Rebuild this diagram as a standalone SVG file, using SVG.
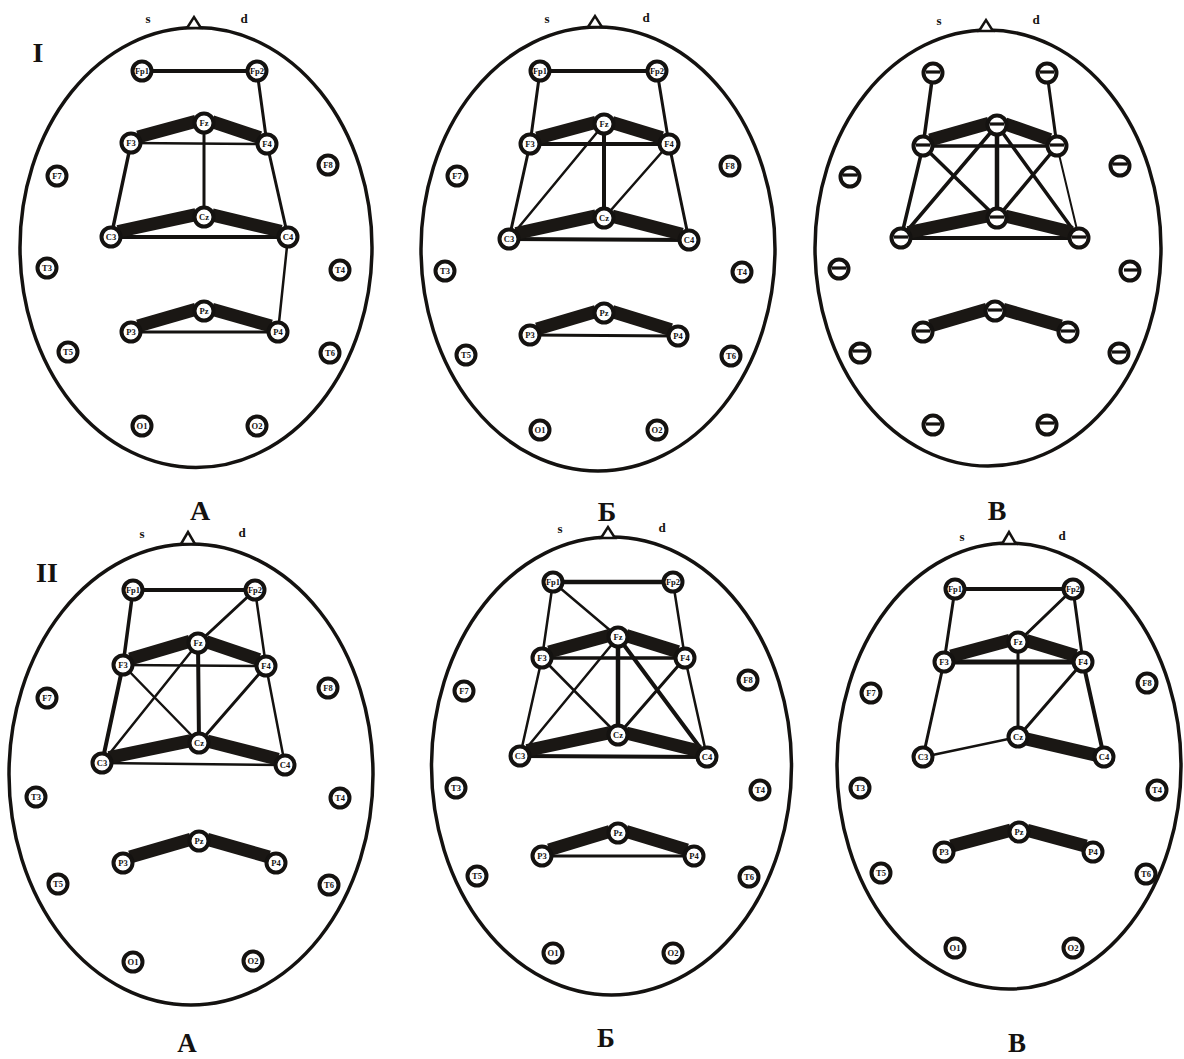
<svg xmlns="http://www.w3.org/2000/svg" width="1184" height="1059" viewBox="0 0 1184 1059">
<style>
.bg{fill:#fff}
.head{fill:none;stroke:#141210;stroke-width:3.5}
.nose{fill:#fff;stroke:#141210;stroke-width:2.5;stroke-linejoin:miter}
.sd{font-family:"Liberation Serif",serif;font-weight:bold;font-size:13px;fill:#141210;text-anchor:middle}
.big{font-family:"Liberation Serif",serif;font-weight:bold;font-size:28px;fill:#141210;text-anchor:middle}
.big2{font-family:"Liberation Serif",serif;font-weight:bold;font-size:27px;fill:#141210;text-anchor:middle}
.el circle{fill:#fff;stroke:#141210;stroke-width:4}
.el text{font-family:"Liberation Serif",serif;font-weight:bold;font-size:8.5px;fill:#141210;text-anchor:middle}
.el line{stroke:#141210;stroke-width:3.2}
.cn line{stroke:#141210;stroke-width:3;stroke-linecap:round}
.cn .w2{stroke-width:2}
.cn .w25{stroke-width:2.5}
.cn .w35{stroke-width:3.5}
.cn .w4{stroke-width:4}
.cn .w45{stroke-width:4.5}
.cn .w5{stroke-width:5}
.bands line{stroke:#1a1714;stroke-width:13;stroke-linecap:butt}
</style>
<rect class="bg" x="0" y="0" width="1184" height="1059"/>

<!-- heads -->
<g id="head-I-A">
<ellipse class="head" cx="196" cy="247.5" rx="176" ry="220"/>
<polygon class="nose" points="187,28 194,17 201,28"/>
<text class="sd" x="148" y="23">s</text><text class="sd" x="244" y="23">d</text>
</g>
<g id="head-I-B">
<ellipse class="head" cx="598" cy="249" rx="177" ry="222"/>
<polygon class="nose" points="588,27 595,16 602,27"/>
<text class="sd" x="547" y="23">s</text><text class="sd" x="646" y="22">d</text>
</g>
<g id="head-I-V">
<ellipse class="head" cx="988" cy="248" rx="173" ry="218"/>
<polygon class="nose" points="979,31 986,20 993,31"/>
<text class="sd" x="939" y="25">s</text><text class="sd" x="1036" y="24">d</text>
</g>
<g id="head-II-A">
<ellipse class="head" cx="191" cy="774.5" rx="182" ry="230.5"/>
<polygon class="nose" points="181,544 188,532 195,544"/>
<text class="sd" x="142" y="538">s</text><text class="sd" x="242" y="537">d</text>
</g>
<g id="head-II-B">
<ellipse class="head" cx="611.5" cy="766" rx="180" ry="229"/>
<polygon class="nose" points="601,538 608,527 615,538"/>
<text class="sd" x="560" y="533">s</text><text class="sd" x="662" y="532">d</text>
</g>
<g id="head-II-V">
<ellipse class="head" cx="1009" cy="766" rx="172" ry="223"/>
<polygon class="nose" points="1002,544 1009,532 1016,544"/>
<text class="sd" x="962" y="541">s</text><text class="sd" x="1062" y="540">d</text>
</g>

<!-- labels -->
<g id="labels">
<text class="big" x="38" y="62">I</text>
<text class="big" x="47" y="582">II</text>
<text class="big" x="200" y="520">А</text>
<text class="big" x="607" y="521">Б</text>
<text class="big" x="997" y="520">В</text>
<text class="big2" x="187" y="1052">А</text>
<text class="big2" x="606" y="1047">Б</text>
<text class="big2" x="1017" y="1052">В</text>
</g>

<!-- connectors -->
<g id="connectors" class="cn">
<g id="cn-I-A">
<line class="w4" x1="142" y1="71" x2="257" y2="71"/>
<line x1="257" y1="71" x2="267" y2="144"/>
<line class="w25" x1="131" y1="143" x2="267" y2="144"/>
<line x1="204" y1="123" x2="204" y2="217"/>
<line class="w35" x1="131" y1="143" x2="111" y2="237"/>
<line x1="267" y1="144" x2="288" y2="237"/>
<line class="w4" x1="111" y1="237" x2="288" y2="237"/>
<line class="w25" x1="288" y1="237" x2="278" y2="332"/>
<line x1="131" y1="332" x2="278" y2="332"/>
</g>
<g id="cn-I-B">
<line class="w4" x1="540" y1="71" x2="657" y2="71"/>
<line x1="540" y1="71" x2="530" y2="144"/>
<line x1="657" y1="71" x2="669" y2="144"/>
<line class="w4" x1="530" y1="144" x2="669" y2="144"/>
<line class="w4" x1="604" y1="124" x2="604" y2="218"/>
<line class="w25" x1="604" y1="124" x2="509" y2="239"/>
<line class="w25" x1="669" y1="144" x2="604" y2="218"/>
<line x1="530" y1="144" x2="509" y2="239"/>
<line x1="669" y1="144" x2="689" y2="240"/>
<line class="w4" x1="509" y1="239" x2="689" y2="240"/>
<line x1="530" y1="335" x2="678" y2="336"/>
</g>
<g id="cn-I-V">
<line class="w35" x1="933" y1="73" x2="923" y2="146"/>
<line x1="1047" y1="73" x2="1057" y2="146"/>
<line class="w35" x1="923" y1="146" x2="1057" y2="146"/>
<line class="w45" x1="997" y1="125" x2="997" y2="218"/>
<line class="w35" x1="923" y1="146" x2="997" y2="218"/>
<line class="w35" x1="997" y1="125" x2="901" y2="238"/>
<line class="w35" x1="997" y1="125" x2="1079" y2="238"/>
<line class="w35" x1="1057" y1="146" x2="997" y2="218"/>
<line class="w35" x1="923" y1="146" x2="901" y2="238"/>
<line class="w2" x1="1057" y1="146" x2="1079" y2="238"/>
<line class="w4" x1="901" y1="238" x2="1079" y2="238"/>
</g>
<g id="cn-II-A">
<line class="w4" x1="133" y1="590" x2="255" y2="590"/>
<line class="w35" x1="133" y1="590" x2="123" y2="665"/>
<line class="w25" x1="255" y1="590" x2="266" y2="666"/>
<line x1="255" y1="590" x2="198" y2="643"/>
<line class="w25" x1="123" y1="665" x2="266" y2="666"/>
<line class="w4" x1="198" y1="643" x2="199" y2="743"/>
<line class="w25" x1="198" y1="643" x2="102" y2="763"/>
<line class="w25" x1="123" y1="665" x2="199" y2="743"/>
<line x1="266" y1="666" x2="199" y2="743"/>
<line class="w4" x1="123" y1="665" x2="102" y2="763"/>
<line class="w25" x1="266" y1="666" x2="285" y2="765"/>
<line class="w25" x1="102" y1="763" x2="285" y2="765"/>
</g>
<g id="cn-II-B">
<line class="w45" x1="553" y1="582" x2="673" y2="582"/>
<line class="w25" x1="553" y1="582" x2="542" y2="658"/>
<line class="w25" x1="673" y1="582" x2="685" y2="658"/>
<line class="w25" x1="553" y1="582" x2="618" y2="637"/>
<line class="w35" x1="542" y1="658" x2="685" y2="658"/>
<line class="w45" x1="618" y1="637" x2="618" y2="735"/>
<line class="w25" x1="618" y1="637" x2="520" y2="756"/>
<line class="w4" x1="618" y1="637" x2="707" y2="757"/>
<line class="w25" x1="542" y1="658" x2="618" y2="735"/>
<line x1="685" y1="658" x2="618" y2="735"/>
<line class="w25" x1="542" y1="658" x2="520" y2="756"/>
<line class="w25" x1="685" y1="658" x2="707" y2="757"/>
<line class="w4" x1="520" y1="756" x2="707" y2="757"/>
<line x1="542" y1="856" x2="694" y2="856"/>
</g>
<g id="cn-II-V">
<line class="w4" x1="955" y1="589" x2="1073" y2="589"/>
<line x1="955" y1="589" x2="944" y2="662"/>
<line x1="1073" y1="589" x2="1083" y2="662"/>
<line x1="1073" y1="589" x2="1018" y2="642"/>
<line class="w5" x1="944" y1="662" x2="1083" y2="662"/>
<line x1="1018" y1="642" x2="1018" y2="737"/>
<line x1="1083" y1="662" x2="1018" y2="737"/>
<line x1="944" y1="662" x2="923" y2="757"/>
<line class="w4" x1="1083" y1="662" x2="1104" y2="757"/>
<line class="w25" x1="923" y1="757" x2="1018" y2="737"/>
</g>
<g class="bands" transform="translate(0,-4)">
<line x1="138" y1="141.1" x2="196" y2="125.2"/>
<line x1="212" y1="125.7" x2="260" y2="141.7"/>
<line x1="118" y1="235.5" x2="196" y2="218.7"/>
<line x1="212" y1="218.9" x2="281" y2="235.3"/>
<line x1="138" y1="330" x2="196" y2="313.3"/>
<line x1="212" y1="313.3" x2="271" y2="330"/>

<line x1="537" y1="142.1" x2="596" y2="126.2"/>
<line x1="612" y1="126.5" x2="662" y2="141.8"/>
<line x1="516" y1="237.5" x2="596" y2="219.8"/>
<line x1="612" y1="220.1" x2="682" y2="238.2"/>
<line x1="537" y1="332.9" x2="596" y2="315.4"/>
<line x1="612" y1="315.5" x2="671" y2="333.8"/>

<line x1="930" y1="144" x2="989" y2="127.3"/>
<line x1="1005" y1="127.8" x2="1050" y2="143.6"/>
<line x1="908" y1="236.5" x2="989" y2="219.7"/>
<line x1="1005" y1="220" x2="1072" y2="236.3"/>
<line x1="930" y1="330" x2="987" y2="313.3"/>
<line x1="1003" y1="313.3" x2="1061" y2="330"/>

<line x1="130" y1="662.9" x2="190" y2="645.3"/>
<line x1="206" y1="645.7" x2="259" y2="663.6"/>
<line x1="109" y1="761.6" x2="191" y2="744.6"/>
<line x1="207" y1="745" x2="278" y2="763.2"/>
<line x1="130" y1="861" x2="191" y2="843.3"/>
<line x1="207" y1="843.3" x2="269" y2="861"/>

<line x1="549" y1="656.1" x2="610" y2="639.2"/>
<line x1="626" y1="639.5" x2="678" y2="655.8"/>
<line x1="527" y1="754.5" x2="610" y2="736.7"/>
<line x1="626" y1="737" x2="700" y2="755.3"/>
<line x1="549" y1="853.9" x2="610" y2="835.4"/>
<line x1="626" y1="835.4" x2="687" y2="853.9"/>

<line x1="951" y1="660.1" x2="1010" y2="644.2"/>
<line x1="1026" y1="644.5" x2="1076" y2="659.8"/>
<line x1="1026" y1="742.9" x2="1097" y2="759.4"/>
<line x1="951" y1="850.1" x2="1011" y2="834.1"/>
<line x1="1027" y1="834.2" x2="1086" y2="850.1"/>
</g>
</g>

<!-- electrodes I-A -->
<g id="I-A">
<g id="IA-Fp1" class="el"><circle cx="142" cy="71" r="9.5"/><text x="142" y="74">Fp1</text></g>
<g id="IA-Fp2" class="el"><circle cx="257" cy="71" r="9.5"/><text x="257" y="74">Fp2</text></g>
<g id="IA-Fz" class="el"><circle cx="204" cy="123" r="9.5"/><text x="204" y="126">Fz</text></g>
<g id="IA-F3" class="el"><circle cx="131" cy="143" r="9.5"/><text x="131" y="146">F3</text></g>
<g id="IA-F4" class="el"><circle cx="267" cy="144" r="9.5"/><text x="267" y="147">F4</text></g>
<g id="IA-F7" class="el"><circle cx="57" cy="176" r="9.5"/><text x="57" y="179">F7</text></g>
<g id="IA-F8" class="el"><circle cx="328" cy="165" r="9.5"/><text x="328" y="168">F8</text></g>
<g id="IA-Cz" class="el"><circle cx="204" cy="217" r="9.5"/><text x="204" y="220">Cz</text></g>
<g id="IA-C3" class="el"><circle cx="111" cy="237" r="9.5"/><text x="111" y="240">C3</text></g>
<g id="IA-C4" class="el"><circle cx="288" cy="237" r="9.5"/><text x="288" y="240">C4</text></g>
<g id="IA-T3" class="el"><circle cx="47" cy="268" r="9.5"/><text x="47" y="271">T3</text></g>
<g id="IA-T4" class="el"><circle cx="340" cy="270" r="9.5"/><text x="340" y="273">T4</text></g>
<g id="IA-Pz" class="el"><circle cx="204" cy="311" r="9.5"/><text x="204" y="314">Pz</text></g>
<g id="IA-P3" class="el"><circle cx="131" cy="332" r="9.5"/><text x="131" y="335">P3</text></g>
<g id="IA-P4" class="el"><circle cx="278" cy="332" r="9.5"/><text x="278" y="335">P4</text></g>
<g id="IA-T5" class="el"><circle cx="68" cy="352" r="9.5"/><text x="68" y="355">T5</text></g>
<g id="IA-T6" class="el"><circle cx="330" cy="353" r="9.5"/><text x="330" y="356">T6</text></g>
<g id="IA-O1" class="el"><circle cx="142" cy="426" r="9.5"/><text x="142" y="429">O1</text></g>
<g id="IA-O2" class="el"><circle cx="257" cy="426" r="9.5"/><text x="257" y="429">O2</text></g>
</g>

<!-- electrodes I-B -->
<g id="I-B">
<g id="IB-Fp1" class="el"><circle cx="540" cy="71" r="9.5"/><text x="540" y="74">Fp1</text></g>
<g id="IB-Fp2" class="el"><circle cx="657" cy="71" r="9.5"/><text x="657" y="74">Fp2</text></g>
<g id="IB-Fz" class="el"><circle cx="604" cy="124" r="9.5"/><text x="604" y="127">Fz</text></g>
<g id="IB-F3" class="el"><circle cx="530" cy="144" r="9.5"/><text x="530" y="147">F3</text></g>
<g id="IB-F4" class="el"><circle cx="669" cy="144" r="9.5"/><text x="669" y="147">F4</text></g>
<g id="IB-F7" class="el"><circle cx="457" cy="176" r="9.5"/><text x="457" y="179">F7</text></g>
<g id="IB-F8" class="el"><circle cx="730" cy="166" r="9.5"/><text x="730" y="169">F8</text></g>
<g id="IB-Cz" class="el"><circle cx="604" cy="218" r="9.5"/><text x="604" y="221">Cz</text></g>
<g id="IB-C3" class="el"><circle cx="509" cy="239" r="9.5"/><text x="509" y="242">C3</text></g>
<g id="IB-C4" class="el"><circle cx="689" cy="240" r="9.5"/><text x="689" y="243">C4</text></g>
<g id="IB-T3" class="el"><circle cx="445" cy="271" r="9.5"/><text x="445" y="274">T3</text></g>
<g id="IB-T4" class="el"><circle cx="742" cy="272" r="9.5"/><text x="742" y="275">T4</text></g>
<g id="IB-Pz" class="el"><circle cx="604" cy="313" r="9.5"/><text x="604" y="316">Pz</text></g>
<g id="IB-P3" class="el"><circle cx="530" cy="335" r="9.5"/><text x="530" y="338">P3</text></g>
<g id="IB-P4" class="el"><circle cx="678" cy="336" r="9.5"/><text x="678" y="339">P4</text></g>
<g id="IB-T5" class="el"><circle cx="466" cy="355" r="9.5"/><text x="466" y="358">T5</text></g>
<g id="IB-T6" class="el"><circle cx="731" cy="356" r="9.5"/><text x="731" y="359">T6</text></g>
<g id="IB-O1" class="el"><circle cx="540" cy="430" r="9.5"/><text x="540" y="433">O1</text></g>
<g id="IB-O2" class="el"><circle cx="657" cy="430" r="9.5"/><text x="657" y="433">O2</text></g>
</g>

<!-- electrodes I-V (minus marks) -->
<g id="I-V">
<g id="IV-Fp1" class="el"><circle cx="933" cy="73" r="9.5"/><line x1="926" y1="72" x2="940" y2="72"/></g>
<g id="IV-Fp2" class="el"><circle cx="1047" cy="73" r="9.5"/><line x1="1040" y1="72" x2="1054" y2="72"/></g>
<g id="IV-Fz" class="el"><circle cx="997" cy="125" r="9.5"/><line x1="990" y1="124" x2="1004" y2="124"/></g>
<g id="IV-F3" class="el"><circle cx="923" cy="146" r="9.5"/><line x1="916" y1="145" x2="930" y2="145"/></g>
<g id="IV-F4" class="el"><circle cx="1057" cy="146" r="9.5"/><line x1="1050" y1="145" x2="1064" y2="145"/></g>
<g id="IV-F7" class="el"><circle cx="850" cy="177" r="9.5"/><line x1="843" y1="175" x2="857" y2="175"/></g>
<g id="IV-F8" class="el"><circle cx="1120" cy="166" r="9.5"/><line x1="1113" y1="164" x2="1127" y2="164"/></g>
<g id="IV-Cz" class="el"><circle cx="997" cy="218" r="9.5"/><line x1="990" y1="217" x2="1004" y2="217"/></g>
<g id="IV-C3" class="el"><circle cx="901" cy="238" r="9.5"/><line x1="894" y1="237" x2="908" y2="237"/></g>
<g id="IV-C4" class="el"><circle cx="1079" cy="238" r="9.5"/><line x1="1072" y1="237" x2="1086" y2="237"/></g>
<g id="IV-T3" class="el"><circle cx="839" cy="269" r="9.5"/><line x1="832" y1="268" x2="846" y2="268"/></g>
<g id="IV-T4" class="el"><circle cx="1130" cy="271" r="9.5"/><line x1="1124" y1="270" x2="1138" y2="270"/></g>
<g id="IV-Pz" class="el"><circle cx="995" cy="311" r="9.5"/><line x1="988" y1="310" x2="1002" y2="310"/></g>
<g id="IV-P3" class="el"><circle cx="923" cy="332" r="9.5"/><line x1="916" y1="331" x2="930" y2="331"/></g>
<g id="IV-P4" class="el"><circle cx="1068" cy="332" r="9.5"/><line x1="1061" y1="331" x2="1075" y2="331"/></g>
<g id="IV-T5" class="el"><circle cx="860" cy="353" r="9.5"/><line x1="853" y1="351" x2="867" y2="351"/></g>
<g id="IV-T6" class="el"><circle cx="1119" cy="353" r="9.5"/><line x1="1112" y1="352" x2="1126" y2="352"/></g>
<g id="IV-O1" class="el"><circle cx="933" cy="425" r="9.5"/><line x1="926" y1="424" x2="940" y2="424"/></g>
<g id="IV-O2" class="el"><circle cx="1047" cy="425" r="9.5"/><line x1="1040" y1="423" x2="1054" y2="423"/></g>
</g>

<!-- electrodes II-A -->
<g id="II-A">
<g id="IIA-Fp1" class="el"><circle cx="133" cy="590" r="9.5"/><text x="133" y="593">Fp1</text></g>
<g id="IIA-Fp2" class="el"><circle cx="255" cy="590" r="9.5"/><text x="255" y="593">Fp2</text></g>
<g id="IIA-Fz" class="el"><circle cx="198" cy="643" r="9.5"/><text x="198" y="646">Fz</text></g>
<g id="IIA-F3" class="el"><circle cx="123" cy="665" r="9.5"/><text x="123" y="668">F3</text></g>
<g id="IIA-F4" class="el"><circle cx="266" cy="666" r="9.5"/><text x="266" y="669">F4</text></g>
<g id="IIA-F7" class="el"><circle cx="47" cy="698" r="9.5"/><text x="47" y="701">F7</text></g>
<g id="IIA-F8" class="el"><circle cx="328" cy="688" r="9.5"/><text x="328" y="691">F8</text></g>
<g id="IIA-Cz" class="el"><circle cx="199" cy="743" r="9.5"/><text x="199" y="746">Cz</text></g>
<g id="IIA-C3" class="el"><circle cx="102" cy="763" r="9.5"/><text x="102" y="766">C3</text></g>
<g id="IIA-C4" class="el"><circle cx="285" cy="765" r="9.5"/><text x="285" y="768">C4</text></g>
<g id="IIA-T3" class="el"><circle cx="36" cy="797" r="9.5"/><text x="36" y="800">T3</text></g>
<g id="IIA-T4" class="el"><circle cx="340" cy="798" r="9.5"/><text x="340" y="801">T4</text></g>
<g id="IIA-Pz" class="el"><circle cx="199" cy="841" r="9.5"/><text x="199" y="844">Pz</text></g>
<g id="IIA-P3" class="el"><circle cx="123" cy="863" r="9.5"/><text x="123" y="866">P3</text></g>
<g id="IIA-P4" class="el"><circle cx="276" cy="863" r="9.5"/><text x="276" y="866">P4</text></g>
<g id="IIA-T5" class="el"><circle cx="58" cy="884" r="9.5"/><text x="58" y="887">T5</text></g>
<g id="IIA-T6" class="el"><circle cx="329" cy="885" r="9.5"/><text x="329" y="888">T6</text></g>
<g id="IIA-O1" class="el"><circle cx="133" cy="962" r="9.5"/><text x="133" y="965">O1</text></g>
<g id="IIA-O2" class="el"><circle cx="253" cy="961" r="9.5"/><text x="253" y="964">O2</text></g>
</g>

<!-- electrodes II-B -->
<g id="II-B">
<g id="IIB-Fp1" class="el"><circle cx="553" cy="582" r="9.5"/><text x="553" y="585">Fp1</text></g>
<g id="IIB-Fp2" class="el"><circle cx="673" cy="582" r="9.5"/><text x="673" y="585">Fp2</text></g>
<g id="IIB-Fz" class="el"><circle cx="618" cy="637" r="9.5"/><text x="618" y="640">Fz</text></g>
<g id="IIB-F3" class="el"><circle cx="542" cy="658" r="9.5"/><text x="542" y="661">F3</text></g>
<g id="IIB-F4" class="el"><circle cx="685" cy="658" r="9.5"/><text x="685" y="661">F4</text></g>
<g id="IIB-F7" class="el"><circle cx="464" cy="691" r="9.5"/><text x="464" y="694">F7</text></g>
<g id="IIB-F8" class="el"><circle cx="748" cy="680" r="9.5"/><text x="748" y="683">F8</text></g>
<g id="IIB-Cz" class="el"><circle cx="618" cy="735" r="9.5"/><text x="618" y="738">Cz</text></g>
<g id="IIB-C3" class="el"><circle cx="520" cy="756" r="9.5"/><text x="520" y="759">C3</text></g>
<g id="IIB-C4" class="el"><circle cx="707" cy="757" r="9.5"/><text x="707" y="760">C4</text></g>
<g id="IIB-T3" class="el"><circle cx="456" cy="788" r="9.5"/><text x="456" y="791">T3</text></g>
<g id="IIB-T4" class="el"><circle cx="760" cy="790" r="9.5"/><text x="760" y="793">T4</text></g>
<g id="IIB-Pz" class="el"><circle cx="618" cy="833" r="9.5"/><text x="618" y="836">Pz</text></g>
<g id="IIB-P3" class="el"><circle cx="542" cy="856" r="9.5"/><text x="542" y="859">P3</text></g>
<g id="IIB-P4" class="el"><circle cx="694" cy="856" r="9.5"/><text x="694" y="859">P4</text></g>
<g id="IIB-T5" class="el"><circle cx="477" cy="876" r="9.5"/><text x="477" y="879">T5</text></g>
<g id="IIB-T6" class="el"><circle cx="749" cy="877" r="9.5"/><text x="749" y="880">T6</text></g>
<g id="IIB-O1" class="el"><circle cx="553" cy="953" r="9.5"/><text x="553" y="956">O1</text></g>
<g id="IIB-O2" class="el"><circle cx="673" cy="953" r="9.5"/><text x="673" y="956">O2</text></g>
</g>

<!-- electrodes II-V -->
<g id="II-V">
<g id="IIV-Fp1" class="el"><circle cx="955" cy="589" r="9.5"/><text x="955" y="592">Fp1</text></g>
<g id="IIV-Fp2" class="el"><circle cx="1073" cy="589" r="9.5"/><text x="1073" y="592">Fp2</text></g>
<g id="IIV-Fz" class="el"><circle cx="1018" cy="642" r="9.5"/><text x="1018" y="645">Fz</text></g>
<g id="IIV-F3" class="el"><circle cx="944" cy="662" r="9.5"/><text x="944" y="665">F3</text></g>
<g id="IIV-F4" class="el"><circle cx="1083" cy="662" r="9.5"/><text x="1083" y="665">F4</text></g>
<g id="IIV-F7" class="el"><circle cx="871" cy="693" r="9.5"/><text x="871" y="696">F7</text></g>
<g id="IIV-F8" class="el"><circle cx="1147" cy="683" r="9.5"/><text x="1147" y="686">F8</text></g>
<g id="IIV-Cz" class="el"><circle cx="1018" cy="737" r="9.5"/><text x="1018" y="740">Cz</text></g>
<g id="IIV-C3" class="el"><circle cx="923" cy="757" r="9.5"/><text x="923" y="760">C3</text></g>
<g id="IIV-C4" class="el"><circle cx="1104" cy="757" r="9.5"/><text x="1104" y="760">C4</text></g>
<g id="IIV-T3" class="el"><circle cx="860" cy="788" r="9.5"/><text x="860" y="791">T3</text></g>
<g id="IIV-T4" class="el"><circle cx="1157" cy="790" r="9.5"/><text x="1157" y="793">T4</text></g>
<g id="IIV-Pz" class="el"><circle cx="1019" cy="832" r="9.5"/><text x="1019" y="835">Pz</text></g>
<g id="IIV-P3" class="el"><circle cx="944" cy="852" r="9.5"/><text x="944" y="855">P3</text></g>
<g id="IIV-P4" class="el"><circle cx="1093" cy="852" r="9.5"/><text x="1093" y="855">P4</text></g>
<g id="IIV-T5" class="el"><circle cx="881" cy="873" r="9.5"/><text x="881" y="876">T5</text></g>
<g id="IIV-T6" class="el"><circle cx="1146" cy="874" r="9.5"/><text x="1146" y="877">T6</text></g>
<g id="IIV-O1" class="el"><circle cx="955" cy="948" r="9.5"/><text x="955" y="951">O1</text></g>
<g id="IIV-O2" class="el"><circle cx="1073" cy="948" r="9.5"/><text x="1073" y="951">O2</text></g>
</g>
</svg>
